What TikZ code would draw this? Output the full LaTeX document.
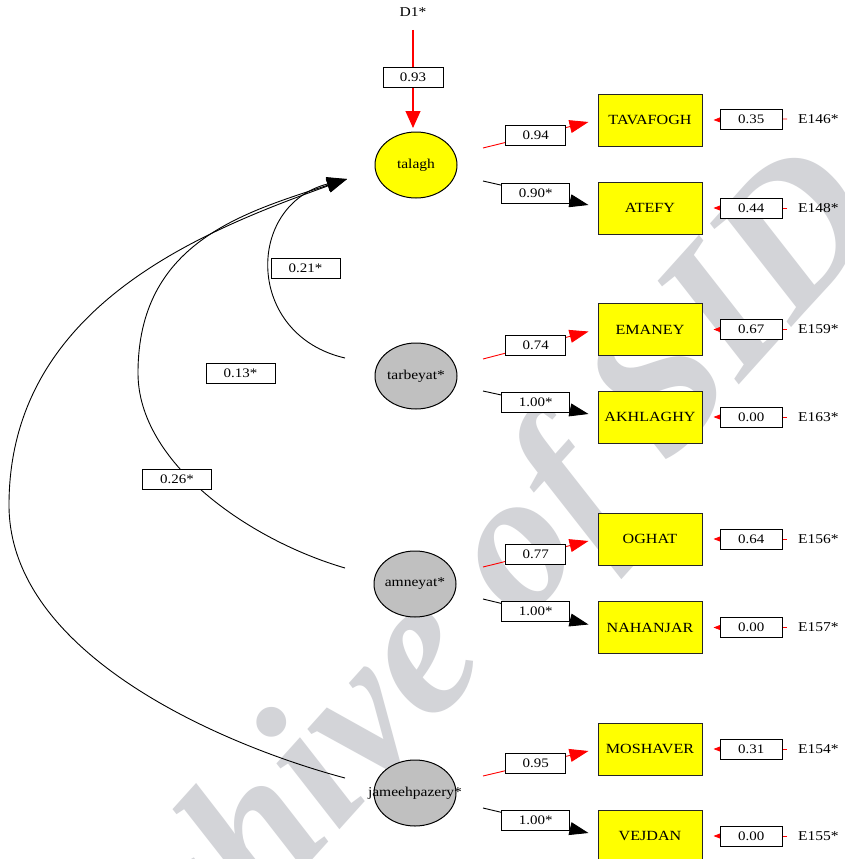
\documentclass[tikz,border=0pt]{standalone}
\usepackage{fontspec}
\setmainfont{Liberation Serif}[FakeStretch=1.15]
\newfontfamily\wmfont{Liberation Serif}
\usetikzlibrary{arrows.meta,shapes.geometric,calc}
\definecolor{wmgray}{RGB}{211,212,216}
\definecolor{latgray}{RGB}{192,192,192}
\definecolor{ylw}{RGB}{255,255,0}
\definecolor{myred}{RGB}{255,0,0}
\begin{document}
\begin{tikzpicture}[x=1pt,y=-1pt,
 obs/.style={draw=black!85, line width=1pt, fill=ylw, minimum width=104pt, minimum height=52pt, inner sep=0pt, font=\fontsize{14}{16}\selectfont},
 lat/.style={ellipse, draw=black, line width=1pt, minimum width=82pt, minimum height=66pt, inner sep=0pt},
 lattext/.style={font=\fontsize{13.5}{15}\selectfont, inner sep=0pt},
 lbl/.style={draw=black, fill=white, line width=0.9pt, minimum width=60pt, minimum height=20pt, inner sep=0pt, font=\fontsize{13}{14}\selectfont},
 wlbl/.style={lbl, minimum width=68pt},
 elbl/.style={font=\fontsize{13.5}{15}\selectfont, anchor=west, inner sep=0pt},
 redarr/.style={draw=myred, line width=0.9pt, -{Triangle[length=19pt,width=13pt]}},
 blkarr/.style={draw=black, line width=0.9pt, -{Triangle[length=19pt,width=13pt]}},
 dist/.style={draw=myred, line width=1.1pt, -{Triangle[length=17pt,width=15pt]}},
 errarr/.style={draw=myred, line width=0.8pt, -{Triangle[length=8pt,width=6pt]}},
 cov/.style={draw=black, line width=0.9pt, -{Triangle[length=20pt,width=14pt]}},
 wm/.style={text=wmgray, inner sep=0pt, font=\wmfont\bfseries\itshape\fontsize{198}{198}\selectfont},
]
\useasboundingbox (0,0) rectangle (845,859);
\clip (0,0) rectangle (845,859);
\fill[white] (0,0) rectangle (845,859);

% watermark
\node[wm, rotate=48, anchor=base] (wmark) at (476,678) {Archive of SID};

% latent variables
\node[lat, fill=ylw] (talagh) at (416,165) {};
\node[lattext] at (talagh) {talagh};
\node[lat, fill=latgray] (tarbeyat) at (416,376) {};
\node[lattext] at (tarbeyat) {tarbeyat*};
\node[lat, fill=latgray] (amneyat) at (415,584) {};
\node[lattext] at (amneyat) {amneyat*};
\node[lat, fill=latgray] (jam) at (415,793) {};
\node[lattext] at (jam) {jameehpazery*};

% disturbance
\node[elbl, anchor=center] (d1) at (413,12) {D1*};
\draw[dist] ($(d1)+(0,18)$) -- ($(talagh)+(-3,-37)$) node[lbl, pos=0.48] {0.93};

% observed variables
\node[obs] (tav) at (650,120) {TAVAFOGH};
\node[obs] (atefy) at (650,208) {ATEFY};
\node[obs] (emaney) at (650,329.5) {EMANEY};
\node[obs] (akh) at (650,417) {AKHLAGHY};
\node[obs] (oghat) at (650,539) {OGHAT};
\node[obs] (nah) at (650,627.5) {NAHANJAR};
\node[obs] (mosh) at (650,749) {MOSHAVER};
\node[obs] (vej) at (650,836) {VEJDAN};

% loadings
\draw[redarr] ($(talagh)+(67,-17)$) -- ($(tav.west)+(-9,2)$) node[lbl, pos=0.5] {0.94};
\draw[blkarr] ($(talagh)+(67,16)$) -- ($(atefy.west)+(-9,-3)$) node[wlbl, pos=0.5] {0.90*};
\draw[redarr] ($(tarbeyat)+(67,-17)$) -- ($(emaney.west)+(-9,2)$) node[lbl, pos=0.5] {0.74};
\draw[blkarr] ($(tarbeyat)+(67,15)$) -- ($(akh.west)+(-9,-3)$) node[wlbl, pos=0.5] {1.00*};
\draw[redarr] ($(amneyat)+(68,-17)$) -- ($(oghat.west)+(-9,2)$) node[lbl, pos=0.5] {0.77};
\draw[blkarr] ($(amneyat)+(68,15)$) -- ($(nah.west)+(-9,-3)$) node[wlbl, pos=0.5] {1.00*};
\draw[redarr] ($(jam)+(68,-17)$) -- ($(mosh.west)+(-9,2)$) node[lbl, pos=0.5] {0.95};
\draw[blkarr] ($(jam)+(68,15)$) -- ($(vej.west)+(-9,-3)$) node[wlbl, pos=0.5] {1.00*};

% errors
\node[elbl] (e146) at (798,119) {E146*};
\node[elbl] (e148) at (798,208) {E148*};
\node[elbl] (e159) at (798,329.5) {E159*};
\node[elbl] (e163) at (798,417) {E163*};
\node[elbl] (e156) at (798,539) {E156*};
\node[elbl] (e157) at (798,627.5) {E157*};
\node[elbl] (e154) at (798,749) {E154*};
\node[elbl] (e155) at (798,836) {E155*};
\foreach \e/\b/\v in {e146/tav/0.35, e148/atefy/0.44, e159/emaney/0.67, e163/akh/0.00, e156/oghat/0.64, e157/nah/0.00, e154/mosh/0.31, e155/vej/0.00}{
  \draw[errarr] ($(\e.west)+(-11,0)$) -- ($(\b.east)+(11,0)$) node[lbl, minimum width=62pt, pos=0.486] {\v};
}

% covariances
\draw[cov] ($(tarbeyat)+(-71,-18)$) .. controls (245,335) and (245,205) .. ($(talagh)+(-69,14)$);
\draw[cov] ($(amneyat)+(-70,-16)$) .. controls (249,540) and (138,463) .. (138,373) .. controls (138,243) and (242,213) .. ($(talagh)+(-69,14)$);
\draw[cov] ($(jam)+(-70,-15)$) .. controls (225,746) and (9,655) .. (9,505) .. controls (9,305) and (206,230) .. ($(talagh)+(-69,14)$);
\node[lbl, minimum width=69pt] (c21) at (305.5,268) {0.21*};
\node[lbl, minimum width=69pt] (c13) at (240.5,373) {0.13*};
\node[lbl, minimum width=69pt] (c26) at (177,479) {0.26*};
\end{tikzpicture}
\end{document}
